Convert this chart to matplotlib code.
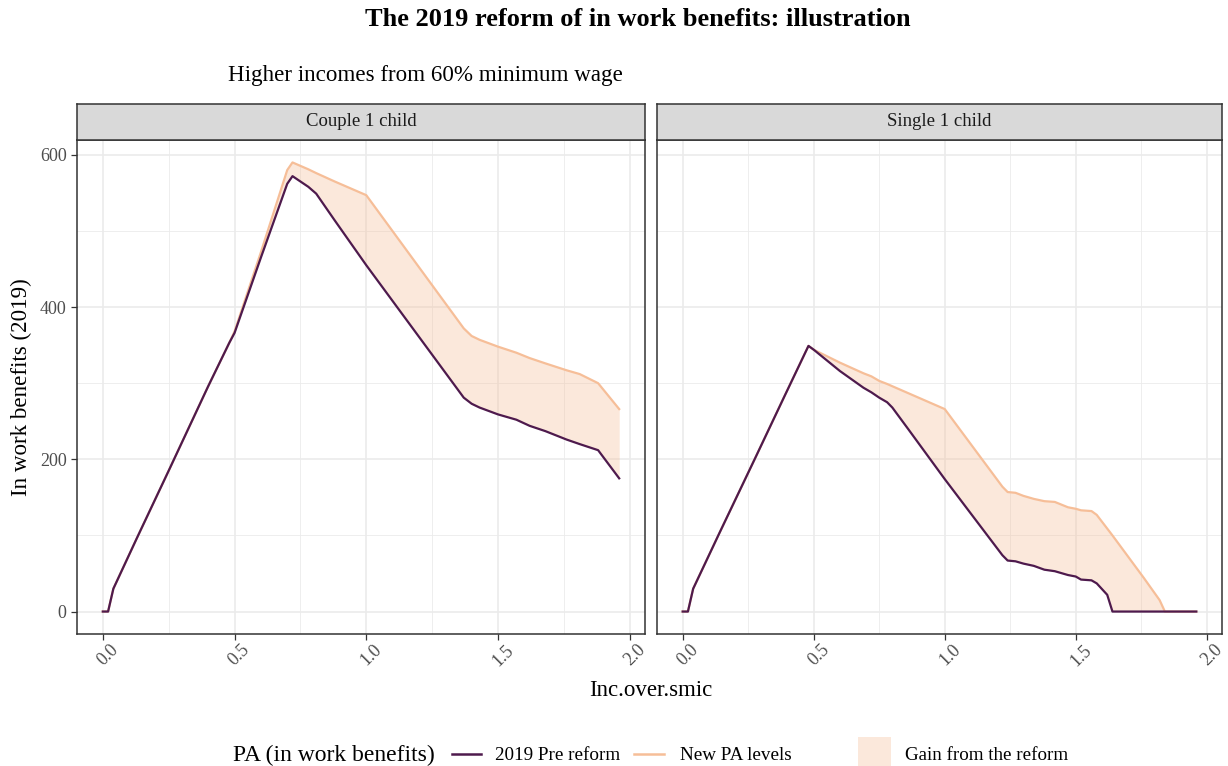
import matplotlib
matplotlib.use("Agg")
import matplotlib.pyplot as plt
from matplotlib.patches import Rectangle
from matplotlib.lines import Line2D
import matplotlib.transforms as mtransforms
import numpy as np

# ---------------- data ----------------
panels = ["Couple 1 child", "Single 1 child"]

couple_x = [0.0, 0.02, 0.04, 0.13, 0.25, 0.40, 0.48, 0.50, 0.60, 0.70, 0.72, 0.78, 0.81, 0.88,
            1.00, 1.37, 1.40, 1.43, 1.50, 1.57, 1.62, 1.68, 1.76, 1.81, 1.88, 1.96]
couple_pre = [0, 0, 30, 97, 185, 296, 353, 366, 465, 562, 572, 558, 549, 514,
              455, 281, 273, 268, 259, 252, 244, 237, 226, 220, 212, 175]
couple_new = [0, 0, 30, 97, 185, 296, 353, 368, 472, 580, 590, 581, 576, 565,
              547, 372, 362, 357, 348, 340, 333, 326, 317, 312, 300, 266]

single_x = [0.0, 0.02, 0.04, 0.14, 0.28, 0.39, 0.48, 0.50, 0.60, 0.69, 0.72, 0.75, 0.78, 0.80,
            0.86, 1.00, 1.22, 1.24, 1.27, 1.30, 1.34, 1.38, 1.42, 1.47, 1.50, 1.52, 1.56,
            1.58, 1.62, 1.64, 1.70, 1.76, 1.82, 1.84, 1.90, 1.96]
single_pre = [0, 0, 30, 103, 204, 284, 349, 344, 316, 294, 288, 281, 275, 268,
              240, 174, 74, 67, 66, 63, 60, 55, 53, 48, 46, 42, 41,
              37, 22, 0, 0, 0, 0, 0, 0, 0]
single_new = [0, 0, 30, 103, 204, 284, 349, 344, 327, 313, 309, 303, 299, 296,
              287, 266, 164, 157, 156, 152, 148, 145, 144, 137, 135, 133, 132,
              127, 109, 100, 72, 44, 15, 0, 0, 0]

x_ticks = [0.0, 0.5, 1.0, 1.5, 2.0]
x_ticklabels = ["0.0", "0.5", "1.0", "1.5", "2.0"]
y_ticks = [0, 200, 400, 600]

series_labels = ["2019 Pre reform", "New PA levels"]
fill_label = "Gain from the reform"

title = "The 2019 reform of in work benefits: illustration"
subtitle = "Higher incomes from 60% minimum wage"
xlabel = "Inc.over.smic"
ylabel = "In work benefits (2019)"
legend_title = "PA (in work benefits)"

# ---------------- style ----------------
plt.rcParams['font.family'] = ['Liberation Serif', 'DejaVu Serif']
DARK = "#4E1A4D"
ORANGE = "#F6BE98"
FILL_ALPHA = 0.35
GRID = "#EBEBEB"
BORDER = "#333333"
TICKC = "#4D4D4D"

W, H = 1228, 766
fig = plt.figure(figsize=(W / 100, H / 100), dpi=100)

def fx(px):
    return px / W

def fy(py):
    return 1 - py / H

panel_top, panel_bot = 140, 634
strip_top = 104
lefts = [(77, 645), (657, 1222)]

data = [(couple_x, couple_pre, couple_new), (single_x, single_pre, single_new)]
shift = mtransforms.ScaledTranslation(5 / 100, 3 / 100, fig.dpi_scale_trans)

for i, ((l, r), name, (xs, pre, new)) in enumerate(zip(lefts, panels, data)):
    ax = fig.add_axes([fx(l), fy(panel_bot), (r - l) / W, (panel_bot - panel_top) / H])
    ax.set_xlim(-0.098, 2.058)
    ax.set_ylim(-29.5, 619.5)
    ax.set_xticks(x_ticks)
    ax.set_xticks([0.25, 0.75, 1.25, 1.75], minor=True)
    ax.set_yticks(y_ticks)
    ax.set_yticks([100, 300, 500], minor=True)
    ax.grid(which='major', color=GRID, lw=1.2, zorder=0)
    ax.grid(which='minor', color=GRID, lw=0.6, zorder=0)
    ax.set_axisbelow(True)
    for s in ax.spines.values():
        s.set_color(BORDER)
        s.set_linewidth(1.1)
    ax.tick_params(which='minor', length=0)
    ax.tick_params(which='major', length=4, color=BORDER, width=0.9, labelcolor=TICKC,
                   labelsize=13)
    ax.set_xticklabels(x_ticklabels, rotation=45, ha='center', va='top')
    for lab in ax.get_xticklabels():
        lab.set_transform(lab.get_transform() + shift)
    if i == 0:
        ax.set_yticklabels([str(v) for v in y_ticks])
    else:
        ax.set_yticklabels([])
        ax.tick_params(axis='y', length=0)

    ax.fill_between(xs, pre, new, color=ORANGE, alpha=FILL_ALPHA, lw=0, zorder=2)
    ax.plot(xs, new, color=ORANGE, lw=1.6, zorder=3, solid_joinstyle='round')
    ax.plot(xs, pre, color=DARK, lw=1.6, zorder=4, solid_joinstyle='round')

    # strip
    sax = fig.add_axes([fx(l), fy(panel_top), (r - l) / W, (panel_top - strip_top) / H])
    sax.set_facecolor("#D9D9D9")
    sax.set_xticks([])
    sax.set_yticks([])
    for s in sax.spines.values():
        s.set_color(BORDER)
        s.set_linewidth(1.1)
    sax.text(0.5, 0.5, name, ha='center', va='center', fontsize=13.5, color="#1A1A1A",
             transform=sax.transAxes)

# titles
fig.text(fx(638), fy(19), title, ha='center', va='center', fontsize=19, fontweight='bold')
fig.text(fx(228), fy(76), subtitle, ha='left', va='center', fontsize=16.6)
fig.text(fx(651), fy(690), xlabel, ha='center', va='center', fontsize=16.5)
fig.text(fx(21), fy(387), ylabel, ha='center', va='center', fontsize=16.6, rotation=90)

# legend (manual)
ly = fy(754)
fig.text(fx(233), fy(755), legend_title, ha='left', va='center', fontsize=17)
fig.add_artist(Line2D([fx(452), fx(481)], [ly, ly], color=DARK, lw=1.8, transform=fig.transFigure))
fig.text(fx(495), fy(755), series_labels[0], ha='left', va='center', fontsize=13.8)
fig.add_artist(Line2D([fx(634), fx(664)], [ly, ly], color=ORANGE, lw=1.8, transform=fig.transFigure))
fig.text(fx(680), fy(755), series_labels[1], ha='left', va='center', fontsize=13.8)
fig.add_artist(Rectangle((fx(858), fy(770)), 33 / W, 33 / H, color=ORANGE, alpha=FILL_ALPHA,
                         lw=0, transform=fig.transFigure))
fig.text(fx(905), fy(755), fill_label, ha='left', va='center', fontsize=13.7)

fig.savefig("out.png", dpi=100)
